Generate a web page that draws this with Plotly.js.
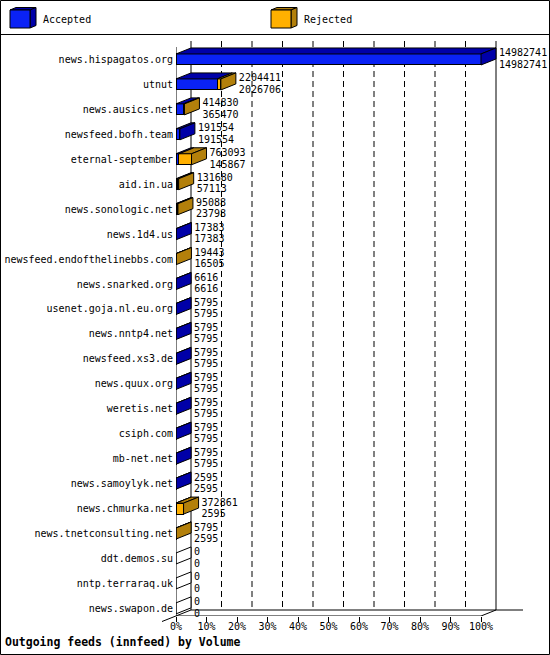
<!DOCTYPE html>
<html>
<head>
<meta charset="utf-8">
<script src="https://cdn.plot.ly/plotly-3.0.1.min.js"></script>
<style>html,body{margin:0;padding:0;background:#fff;}#chart{width:550px;height:655px;}</style>
</head>
<body>
<div id="chart"></div>
<script>
// ---- data ----
const hosts = [
  'news.hispagatos.org','utnut','news.ausics.net','newsfeed.bofh.team','eternal-september',
  'aid.in.ua','news.sonologic.net','news.1d4.us','newsfeed.endofthelinebbs.com','news.snarked.org',
  'usenet.goja.nl.eu.org','news.nntp4.net','newsfeed.xs3.de','news.quux.org','weretis.net',
  'csiph.com','mb-net.net','news.samoylyk.net','news.chmurka.net','news.tnetconsulting.net',
  'ddt.demos.su','nntp.terraraq.uk','news.swapon.de'
];
const offered = [14982741,2204411,414830,191554,763093,131680,95088,17383,19443,6616,
  5795,5795,5795,5795,5795,5795,5795,2595,372861,5795,0,0,0];
const accepted = [14982741,2026706,365470,191554,145867,57113,23798,17383,16505,6616,
  5795,5795,5795,5795,5795,5795,5795,2595,2595,2595,0,0,0];
const rejected = [0,177705,49360,0,617226,74567,71290,0,2938,0,
  0,0,0,0,0,0,0,0,370266,3200,0,0,0];
const tickLabels = ['0%','10%','20%','30%','40%','50%','60%','70%','80%','90%','100%'];
const seriesNames = ['Accepted','Rejected'];
const chartTitle = 'Outgoing feeds (innfeed) by Volume';

// ---- geometry / style ----
const W = 550, H = 655;
const L = 176, T = 41, B = 616;
const DXP = 15, DYP = 6, FRONTW = 305, ROWPX = 24.95;
const R = L + FRONTW + DXP + 5;          // plot area right edge (room for value labels)
const BACKR = L + FRONTW + DXP;         // back wall right edge in px
const BLUE = '#0a22f5', BLUE_D = '#0000a8', ORANGE = '#ffb000', ORANGE_D = '#b3800b';
const MONO = 'DejaVu Sans Mono, Liberation Mono, monospace';

const n = hosts.length;
const xMax = Math.max(...offered);
const DX = xMax * DXP / FRONTW;
const PAD = xMax * 3 / FRONTW;
const xTop = xMax * (R - L) / FRONTW;
const DY = DYP / ROWPX;
const BW = 11 / ROWPX;
const FLOOR = (B - T - DYP) / ROWPX - 0.5;
const idx = hosts.map((h, i) => i);

function polyTrace(polys, fill) {
  const xs = [], ys = [];
  polys.forEach(p => { p.forEach(pt => { xs.push(pt[0]); ys.push(pt[1]); }); xs.push(p[0][0]); ys.push(p[0][1]); xs.push(null); ys.push(null); });
  return {type: 'scatter', mode: 'lines', x: xs, y: ys, fill: 'toself', fillcolor: fill,
    line: {color: '#000', width: 1}, hoverinfo: 'skip', showlegend: false};
}

const topBlue = [], topOrange = [], sideBlue = [], sideOrange = [], sideNone = [];
idx.forEach(i => {
  const yt = i - BW / 2, yb = i + BW / 2;
  const a = accepted[i], r = rejected[i], end = a + r;
  if (a > 0) topBlue.push([[0, yt], [a, yt], [a + DX, yt - DY], [DX, yt - DY]]);
  if (r > 0) topOrange.push([[a, yt], [end, yt], [end + DX, yt - DY], [a + DX, yt - DY]]);
  const side = [[end, yt], [end, yb], [end + DX, yb - DY], [end + DX, yt - DY]];
  if (r > 0) sideOrange.push(side); else if (a > 0) sideBlue.push(side); else sideNone.push(side);
});

const valFont = {family: MONO, size: 10, color: '#000'};
const traces = [
  {type: 'bar', orientation: 'h', name: seriesNames[0], y: idx, x: accepted, width: BW,
   marker: {color: BLUE, line: {color: '#000', width: 1}}, showlegend: false},
  {type: 'bar', orientation: 'h', name: seriesNames[1], y: idx, x: rejected, width: BW,
   marker: {color: ORANGE, line: {color: '#000', width: 1}}, showlegend: false},
  polyTrace(topBlue, BLUE_D),
  polyTrace(topOrange, ORANGE_D),
  polyTrace(sideBlue, BLUE_D),
  polyTrace(sideOrange, ORANGE_D),
  polyTrace(sideNone, '#ffffff'),
  {type: 'scatter', mode: 'text', x: offered.map(v => v + DX + PAD), y: idx.map(i => i - 0.22),
   text: offered.map(String), textposition: 'middle right', cliponaxis: false,
   textfont: valFont, hoverinfo: 'skip', showlegend: false},
  {type: 'scatter', mode: 'text', x: offered.map(v => v + DX + PAD), y: idx.map(i => i + 0.23),
   text: accepted.map(String), textposition: 'middle right', cliponaxis: false,
   textfont: valFont, hoverinfo: 'skip', showlegend: false}
];

// helpers for pixel-placed decorations
const px = v => (v - L) / (R - L);
const py = v => (B - v) / (B - T);

const shapes = [];
const line = (x0, y0, x1, y1, extra) => Object.assign({type: 'line', xref: 'x', yref: 'y', x0, y0, x1, y1,
  line: {color: '#000', width: 1}, layer: 'below'}, extra || {});
// back wall gridlines
for (let k = 1; k < tickLabels.length - 1; k++) {
  const xv = xMax * k / (tickLabels.length - 1) + DX;
  shapes.push(line(xv, -0.5 - DY, xv, FLOOR - DY, {line: {color: '#000', width: 1, dash: '6px,4px'}}));
}
shapes.push(line(DX, -0.5 - DY, DX, FLOOR - DY));
shapes.push(line(xMax + DX, -0.5 - DY, xMax + DX, FLOOR - DY));
shapes.push(line(0, -0.5, 0, FLOOR, {layer: 'above'}));
shapes.push(line(0, FLOOR, xMax, FLOOR));
shapes.push(line(xMax, FLOOR, xMax + DX, FLOOR - DY));
shapes.push(line(DX, FLOOR - DY, xMax + DX, FLOOR - DY));
// floor edges continuing outside the box
shapes.push({type: 'line', xref: 'paper', yref: 'paper', x0: px(L - 14), y0: py(B + 5.5), x1: px(L + DXP), y1: py(B - DYP),
  line: {color: '#000', width: 1}});
shapes.push({type: 'line', xref: 'paper', yref: 'paper', x0: px(BACKR), y0: py(B - DYP), x1: px(BACKR + 27), y1: py(B - DYP),
  line: {color: '#000', width: 1}});
// outer frame and legend separator
shapes.push({type: 'rect', xref: 'paper', yref: 'paper', x0: px(0.5), x1: px(549.5), y0: py(654.5), y1: py(0.5),
  line: {color: '#000', width: 1}});
shapes.push({type: 'line', xref: 'paper', yref: 'paper', x0: px(0), x1: px(550), y0: py(34.5), y1: py(34.5),
  line: {color: '#000', width: 1}});
// legend boxes
function legendBox(x, front, dark) {
  const pathOf = pts => 'M' + pts.map(p => px(p[0]) + ',' + py(p[1])).join('L') + 'Z';
  shapes.push({type: 'path', xref: 'paper', yref: 'paper', path: pathOf([[x, 10], [x + 6, 7.5], [x + 26, 7.5], [x + 20, 10]]),
    fillcolor: dark, line: {color: '#000', width: 1}});
  shapes.push({type: 'path', xref: 'paper', yref: 'paper', path: pathOf([[x + 20, 10], [x + 26, 7.5], [x + 26, 25.5], [x + 20, 28]]),
    fillcolor: dark, line: {color: '#000', width: 1}});
  shapes.push({type: 'rect', xref: 'paper', yref: 'paper', x0: px(x), x1: px(x + 20), y0: py(28), y1: py(10),
    fillcolor: front, line: {color: '#000', width: 1}});
}
legendBox(10, BLUE, BLUE_D);
legendBox(271, ORANGE, ORANGE_D);

const annotations = [
  {xref: 'paper', yref: 'paper', x: px(41), y: py(19.5), xanchor: 'left', yanchor: 'middle', showarrow: false,
   text: seriesNames[0], font: {family: MONO, size: 10, color: '#000'}},
  {xref: 'paper', yref: 'paper', x: px(302), y: py(19.5), xanchor: 'left', yanchor: 'middle', showarrow: false,
   text: seriesNames[1], font: {family: MONO, size: 10, color: '#000'}}
];

const layout = {
  width: W, height: H,
  margin: {l: L, r: W - R, t: T, b: H - B, pad: 0},
  paper_bgcolor: '#fff', plot_bgcolor: 'rgba(0,0,0,0)',
  barmode: 'stack', showlegend: false,
  title: {text: '<b>' + chartTitle + '</b>', xref: 'container', yref: 'container',
    x: 5 / W, xanchor: 'left', y: (H - 642) / H, yanchor: 'middle',
    font: {family: MONO, size: 11.5, color: '#000'}},
  xaxis: {range: [0, xTop], tickvals: tickLabels.map((t, k) => xMax * k / (tickLabels.length - 1)),
    ticktext: tickLabels, showgrid: false, zeroline: false, showline: false,
    ticks: 'outside', ticklen: 5, tickcolor: '#000', tickwidth: 1, ticklabelstandoff: -4,
    tickfont: {family: MONO, size: 10, color: '#000'}, fixedrange: true},
  yaxis: {range: [FLOOR, -0.5 - DY], tickvals: idx, ticktext: hosts, showgrid: false, zeroline: false,
    showline: false, ticks: '', ticklabelstandoff: 2,
    tickfont: {family: MONO, size: 10, color: '#000'}, fixedrange: true},
  shapes, annotations
};

Plotly.newPlot('chart', traces, layout, {displayModeBar: false, staticPlot: true});
</script>
</body>
</html>
